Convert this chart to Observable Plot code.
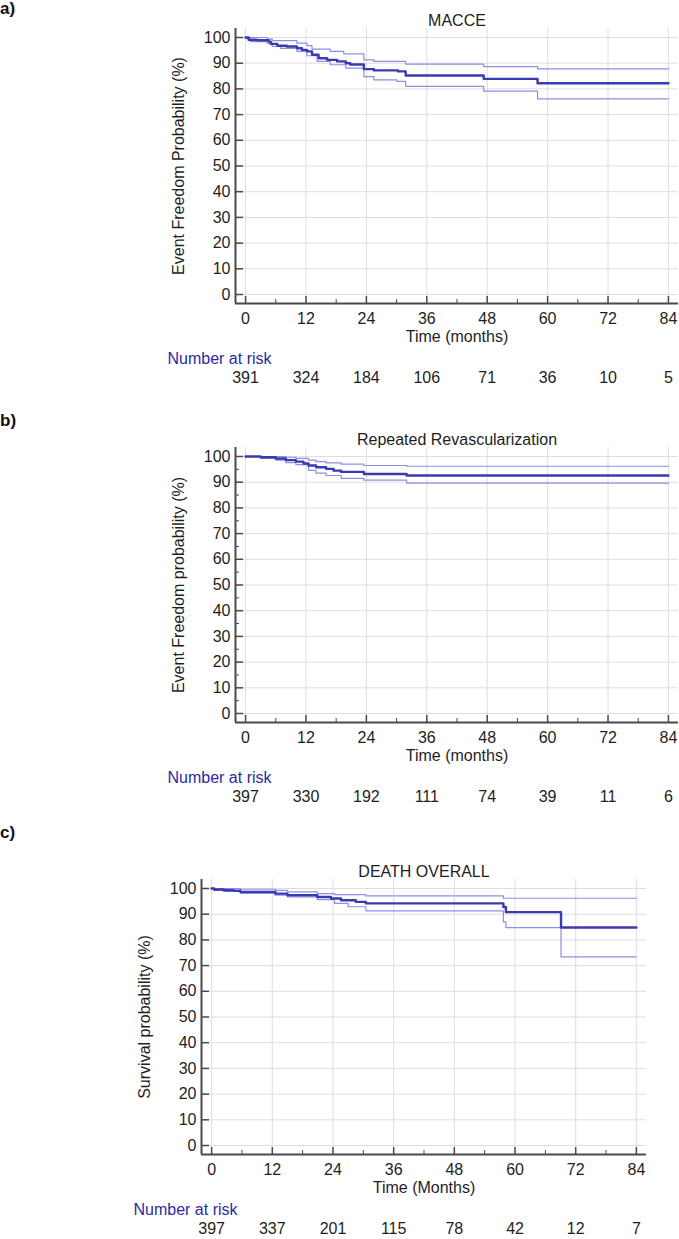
<!DOCTYPE html>
<html>
<head>
<meta charset="utf-8">
<script src="https://cdn.jsdelivr.net/npm/d3@7"></script>
<script src="https://cdn.jsdelivr.net/npm/@observablehq/plot@0.6"></script>
<style>
  body { margin: 0; background: #fff; }
  #page { position: relative; width: 679px; height: 1239px; overflow: hidden; background: #fff;
          font-family: "Liberation Sans", Arial, sans-serif; }
  .panel { position: absolute; left: 0; }
  .tag { position: absolute; left: 0; font-weight: bold; font-size: 17px; line-height: 17px; color: #111; }
</style>
</head>
<body>
<div id="page"></div>
<script>
// Axis ticks shared by the three Kaplan–Meier panels
const monthTicks = [0, 12, 24, 36, 48, 60, 72, 84];
const monthMinor = [6, 18, 30, 42, 54, 66, 78];
const pctTicks = [0, 10, 20, 30, 40, 50, 60, 70, 80, 90, 100];
const pctMinor = [5, 15, 25, 35, 45, 55, 65, 75, 85, 95];
const monthDomain = [-2, 86];
const pctDomain = [-3.5, 103.5];

// a) MACCE — estimate and 95% confidence band (step points: month, %)
const macceT = [0, 0.6, 2.3, 4.6, 5.0, 6.3, 8.2, 10.2, 11.2, 12.2, 13.2, 14.5, 16.2, 18.2, 19.9, 20.8, 23.5, 25.5, 30.3, 31.8, 47.3, 58, 84];
const macceS = [100, 99.1, 98.9, 98.4, 97.5, 96.8, 96.5, 95.8, 95.2, 94.6, 93.3, 91.9, 91.3, 90.7, 90.0, 89.5, 87.7, 87.2, 86.8, 85.2, 83.9, 82.2, 82.2];
const macceUpT = [0, 4.3, 5.3, 10.2, 12.2, 13.2, 16.8, 19.5, 23.5, 25.5, 31.8, 47.3, 58, 84];
const macceUpS = [100, 99.4, 98.8, 97.8, 96.8, 95.5, 94.6, 93.6, 91.3, 90.7, 89.6, 88.7, 87.8, 87.8];
const macceLoT = [0, 0.3, 1.0, 4.3, 5.3, 6.9, 10.2, 12.2, 14.2, 16.8, 19.9, 23.5, 25.5, 30.1, 31.8, 47.3, 58, 84];
const macceLoS = [100, 99.7, 98.4, 97.8, 96.5, 95.8, 94.6, 92.9, 90.7, 89.4, 88.1, 84.8, 83.5, 82.9, 81.0, 79.1, 76.1, 76.1];
const macceAtRisk = [391, 324, 184, 106, 71, 36, 10, 5];

// b) Repeated revascularization
const revascT = [0, 3, 6, 8, 10, 11.5, 12.5, 14, 16, 17.5, 19, 23.5, 32, 84];
const revascS = [100, 99.7, 99.2, 98.6, 98.0, 97.3, 96.5, 95.8, 95.2, 94.5, 94.0, 93.2, 92.6, 92.6];
const revascUpT = [0, 8, 10, 12.5, 14, 16, 19, 23.5, 32, 84];
const revascUpS = [100, 99.7, 99.3, 98.6, 98.0, 97.5, 97.0, 96.5, 96.2, 96.2];
const revascLoT = [0, 3, 6, 8, 10, 12.5, 14, 16, 19, 23.5, 32, 84];
const revascLoS = [100, 99.3, 98.6, 97.6, 96.8, 94.6, 93.5, 92.6, 91.5, 90.8, 89.6, 89.6];
const revascAtRisk = [397, 330, 192, 111, 74, 39, 11, 6];

// c) Death overall
const deathT = [0, 0.5, 2.4, 4.4, 5.7, 12.6, 15, 20.9, 23.6, 25.6, 28.5, 30.5, 57.7, 58.2, 69.1, 84];
const deathS = [100, 99.6, 99.3, 99.1, 98.7, 98.0, 97.4, 96.7, 96.1, 95.4, 94.8, 94.2, 92.8, 90.8, 84.8, 84.8];
const deathUpT = [0, 5.7, 12.6, 15, 20.9, 24.3, 30.5, 57.7, 84];
const deathUpS = [100, 99.7, 99.3, 98.7, 98.0, 97.6, 97.1, 96.2, 96.2];
const deathLoT = [0, 0.5, 2.4, 5.7, 12.6, 15, 20.9, 24.3, 27, 30.5, 57.7, 58.2, 69.1, 84];
const deathLoS = [100, 99.3, 98.9, 98.1, 97.4, 96.7, 95.7, 94.2, 92.9, 91.3, 87.0, 84.8, 73.4, 73.4];
const deathAtRisk = [397, 337, 201, 115, 78, 42, 12, 7];

const estColor = "#3a3ab2";
const ciColor = "#8e8ee2";
const riskColor = "#2b2ba0";
const axisColor = "#4a4a4a";
const gridColor = "#dedede";
const textColor = "#1e1e1e";

const rows = (t, s) => t.map((d, i) => ({month: d, pct: s[i]}));

function kmPanel(p) {
  return Plot.plot({
    width: 679,
    height: 395,
    marginLeft: p.left,
    marginRight: 679 - p.right,
    marginTop: 28,
    marginBottom: 92,
    x: {domain: monthDomain, label: null},
    y: {domain: pctDomain, label: null},
    style: {fontFamily: "'Liberation Sans', Arial, sans-serif", fontSize: "16px", color: textColor, background: "transparent"},
    marks: [
      Plot.gridX(monthTicks, {stroke: gridColor, strokeOpacity: 1}),
      Plot.gridY(pctTicks, {stroke: gridColor, strokeOpacity: 1}),
      Plot.axisX(monthMinor, {tickSize: -4, text: null, stroke: axisColor, label: null}),
      Plot.axisX(monthTicks, {tickSize: -7, tickPadding: 16, stroke: axisColor, strokeWidth: 1.5, label: null, fontSize: 16}),
      ...(p.yMinor ? [Plot.axisY(pctMinor, {tickSize: -4, text: null, stroke: axisColor, label: null})] : []),
      Plot.axisY(pctTicks, {tickSize: -8, tickPadding: 13, stroke: axisColor, strokeWidth: 1.5, label: null, fontSize: 16}),
      Plot.ruleX([monthDomain[0]], {stroke: axisColor, strokeWidth: 2}),
      Plot.ruleY([pctDomain[0]], {stroke: axisColor, strokeWidth: 2}),
      Plot.line(rows(p.upT, p.upS), {x: "month", y: "pct", curve: "step-after", stroke: ciColor, strokeWidth: 1.2}),
      Plot.line(rows(p.loT, p.loS), {x: "month", y: "pct", curve: "step-after", stroke: ciColor, strokeWidth: 1.2}),
      Plot.line(rows(p.t, p.s), {x: "month", y: "pct", curve: "step-after", stroke: estColor, strokeWidth: 2.4}),
      Plot.text([p.title], {text: d => d, frameAnchor: "top", dy: -14, fontSize: 16, fill: textColor}),
      Plot.text([p.yLabel], {text: d => d, frameAnchor: "left", textAnchor: "middle", dx: -57, rotate: -90, fontSize: 16, fill: textColor}),
      Plot.text([p.xLabel], {text: d => d, frameAnchor: "bottom", dy: 38, fontSize: 16, fill: textColor}),
      Plot.text(["Number at risk"], {text: d => d, frameAnchor: "bottom-left", dx: -68, dy: 60, textAnchor: "start", fontSize: 16, fill: riskColor}),
      Plot.text(monthTicks, {x: d => d, text: (d, i) => p.atRisk[i], frameAnchor: "bottom", dy: 79, fontSize: 16, fill: textColor})
    ]
  });
}

const panels = [
  {top: 0, left: 235, right: 678, yMinor: false, title: "MACCE", yLabel: "Event Freedom Probability (%)", xLabel: "Time (months)",
   t: macceT, s: macceS, upT: macceUpT, upS: macceUpS, loT: macceLoT, loS: macceLoS, atRisk: macceAtRisk},
  {top: 419, left: 235, right: 678, yMinor: true, title: "Repeated Revascularization", yLabel: "Event Freedom probability (%)", xLabel: "Time (months)",
   t: revascT, s: revascS, upT: revascUpT, upS: revascUpS, loT: revascLoT, loS: revascLoS, atRisk: revascAtRisk},
  {top: 851, left: 201, right: 646, yMinor: false, title: "DEATH OVERALL", yLabel: "Survival probability (%)", xLabel: "Time (Months)",
   t: deathT, s: deathS, upT: deathUpT, upS: deathUpS, loT: deathLoT, loS: deathLoS, atRisk: deathAtRisk}
];

const page = document.getElementById("page");
for (const p of panels) {
  const div = document.createElement("div");
  div.className = "panel";
  div.style.top = p.top + "px";
  div.appendChild(kmPanel(p));
  page.appendChild(div);
}

// Panel tags
[["a)", 0], ["b)", 412], ["c)", 824]].forEach(([label, top]) => {
  const el = document.createElement("div");
  el.className = "tag";
  el.style.top = top + "px";
  el.textContent = label;
  page.appendChild(el);
});
</script>
</body>
</html>
